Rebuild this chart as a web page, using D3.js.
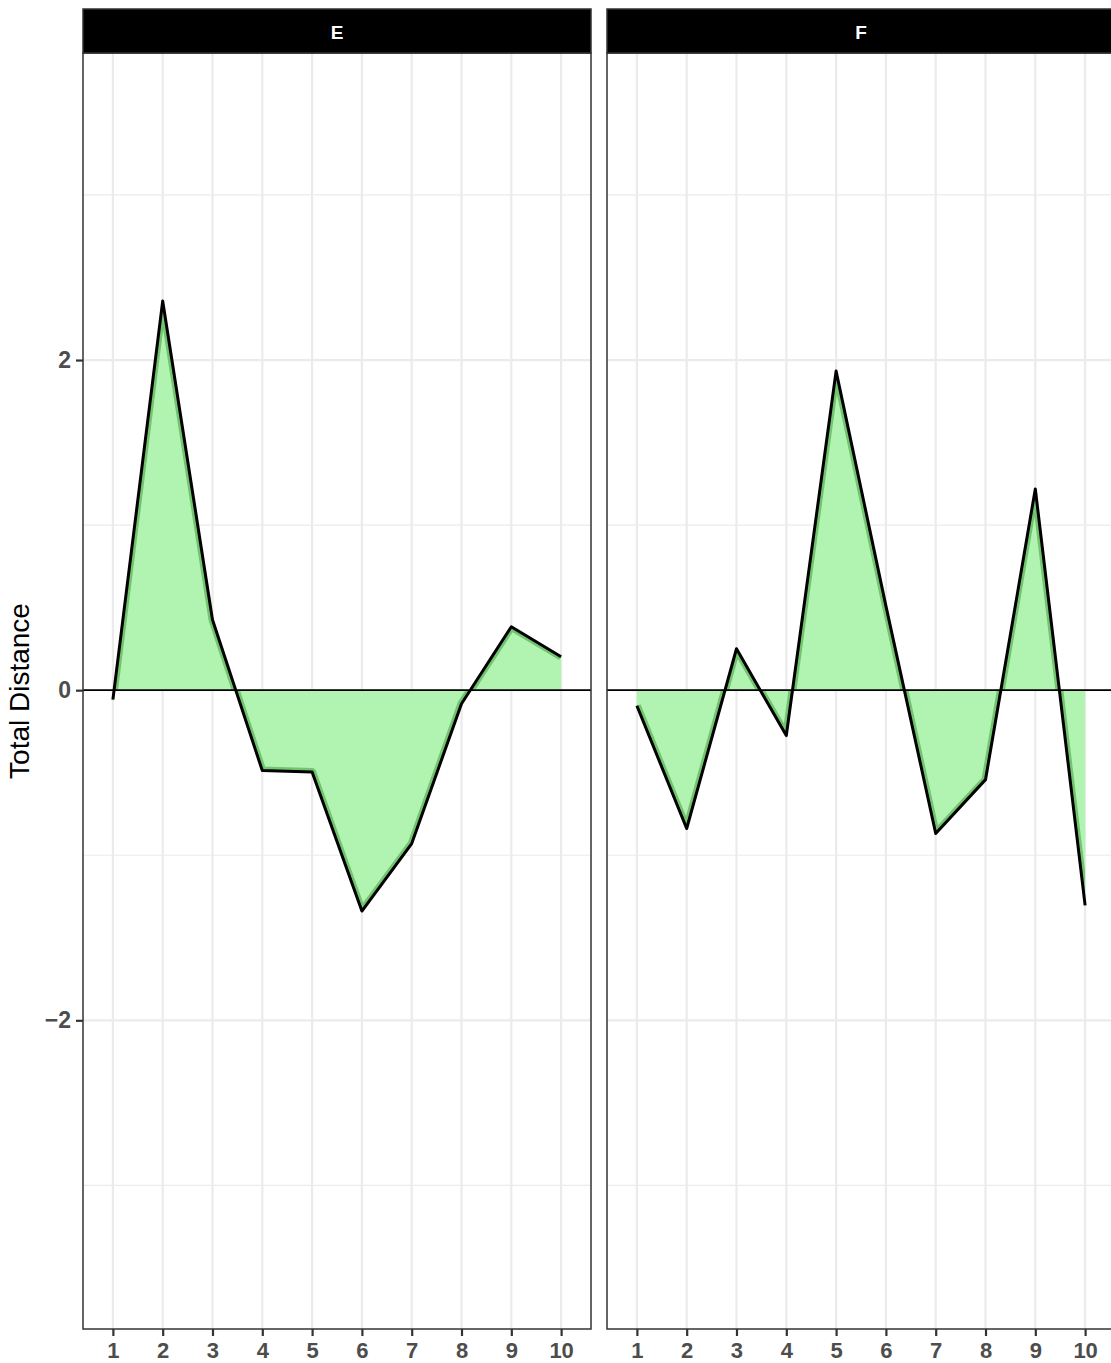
<!DOCTYPE html>
<html>
<head>
<meta charset="utf-8">
<script src="https://cdn.jsdelivr.net/npm/d3@7"></script>
<style>
  html, body { margin: 0; padding: 0; background: #fff; }
  svg { display: block; }
  text { font-family: "Liberation Sans", Arial, Helvetica, sans-serif; }
</style>
</head>
<body>
<svg id="chart" width="1111" height="1363"></svg>
<script>
// Facets and per-step total distance
const facets = ["E", "F"];
const steps = [1, 2, 3, 4, 5, 6, 7, 8, 9, 10];
const valuesE = [-0.057, 2.357, 0.427, -0.487, -0.495, -1.338, -0.929, -0.082, 0.384, 0.203];
const valuesF = [-0.094, -0.838, 0.251, -0.275, 1.933, 0.511, -0.868, -0.542, 1.219, -1.304];
const seriesValues = { E: valuesE, F: valuesF };
const yMajorTicks = [-2, 0, 2];
const yMinorTicks = [-3, -1, 1, 3];
const xTickLabels = ["1", "2", "3", "4", "5", "6", "7", "8", "9", "10"];

const svg = d3.select("#chart");

const panelTop = 53, panelBottom = 1329;
const stripTop = 9;
const panelWidth = 508;
const panelLefts = [83, 607];

const y = d3.scaleLinear().domain([-3.87, 3.86]).range([panelBottom, panelTop]);

const gridColor = "#EBEBEB";
const borderColor = "#333333";
const fillColor = "rgb(177,243,177)";
const bandColor = "#72c46f";
const tickFont = "'Liberation Sans', Arial, sans-serif";

facets.forEach((name, i) => {
  const left = panelLefts[i];
  const x = d3.scaleLinear().domain([0.4, 10.6]).range([left, left + panelWidth]);
  const g = svg.append("g");
  const vals = seriesValues[name];
  const pts = steps.map((s, k) => ({ s, v: vals[k] }));

  // panel background grid
  g.selectAll(".ymin").data(yMinorTicks).join("line")
    .attr("x1", left).attr("x2", left + panelWidth)
    .attr("y1", d => y(d)).attr("y2", d => y(d))
    .attr("stroke", gridColor).attr("stroke-width", 1.2);
  g.selectAll(".ymaj").data(yMajorTicks).join("line")
    .attr("x1", left).attr("x2", left + panelWidth)
    .attr("y1", d => y(d)).attr("y2", d => y(d))
    .attr("stroke", gridColor).attr("stroke-width", 2.2);
  g.selectAll(".xmaj").data(steps).join("line")
    .attr("x1", d => x(d)).attr("x2", d => x(d))
    .attr("y1", panelTop).attr("y2", panelBottom)
    .attr("stroke", gridColor).attr("stroke-width", 2.2);

  // filled area between the series and zero
  const area = d3.area().x(d => x(d.s)).y0(y(0)).y1(d => y(d.v));
  const line = d3.line().x(d => x(d.s)).y(d => y(d.v));

  const clipId = "clip-" + name;
  svg.append("clipPath").attr("id", clipId)
    .append("path").attr("d", area(pts));

  g.append("path").attr("d", area(pts))
    .attr("fill", fillColor).attr("stroke", "none");

  // darker inner edge of the fill along the series line
  g.append("path").attr("d", line(pts))
    .attr("clip-path", `url(#${clipId})`)
    .attr("fill", "none").attr("stroke", bandColor)
    .attr("stroke-width", 8).attr("stroke-linejoin", "round");

  // zero reference line
  g.append("line")
    .attr("x1", left).attr("x2", left + panelWidth)
    .attr("y1", y(0)).attr("y2", y(0))
    .attr("stroke", "#000").attr("stroke-width", 1.7);

  // series line
  g.append("path").attr("d", line(pts))
    .attr("fill", "none").attr("stroke", "#000")
    .attr("stroke-width", 3).attr("stroke-linejoin", "round");

  // panel border
  g.append("rect")
    .attr("x", left).attr("y", panelTop)
    .attr("width", panelWidth).attr("height", panelBottom - panelTop)
    .attr("fill", "none").attr("stroke", borderColor).attr("stroke-width", 1.5);

  // strip
  g.append("rect")
    .attr("x", left).attr("y", stripTop)
    .attr("width", panelWidth).attr("height", panelTop - stripTop)
    .attr("fill", "#000").attr("stroke", borderColor).attr("stroke-width", 1.5);
  g.append("text")
    .attr("x", left + panelWidth / 2).attr("y", (stripTop + panelTop) / 2 + 1)
    .attr("text-anchor", "middle").attr("dominant-baseline", "central")
    .attr("fill", "#fff").attr("font-size", 19).attr("font-weight", "bold")
    .text(name);

  // x axis
  const xAxis = d3.axisBottom(x).tickValues(steps)
    .tickFormat((d, k) => xTickLabels[k]).tickSize(7).tickPadding(6);
  const ax = g.append("g").attr("transform", `translate(0,${panelBottom})`).call(xAxis);
  ax.select(".domain").remove();
  ax.selectAll(".tick line").attr("stroke", borderColor).attr("stroke-width", 2.2);
  ax.selectAll(".tick text")
    .attr("fill", "#4D4D4D").attr("font-size", 22).attr("font-weight", "bold")
    .style("font-family", tickFont);

  // y axis on the first panel only
  if (i === 0) {
    const yAxis = d3.axisLeft(y).tickValues(yMajorTicks)
      .tickFormat(d => d < 0 ? "\u2212" + Math.abs(d) : String(d)).tickSize(7).tickPadding(5);
    const ay = g.append("g").attr("transform", `translate(${left},0)`).call(yAxis);
    ay.select(".domain").remove();
    ay.selectAll(".tick line").attr("stroke", borderColor).attr("stroke-width", 2.2);
    ay.selectAll(".tick text")
      .attr("fill", "#4D4D4D").attr("font-size", 23).attr("font-weight", "bold")
      .style("font-family", tickFont);
  }
});

// y axis title
svg.append("text")
  .attr("transform", `translate(29,${(panelTop + panelBottom) / 2}) rotate(-90)`)
  .attr("text-anchor", "middle")
  .attr("fill", "#000").attr("font-size", 28)
  .text("Total Distance");
</script>
</body>
</html>
